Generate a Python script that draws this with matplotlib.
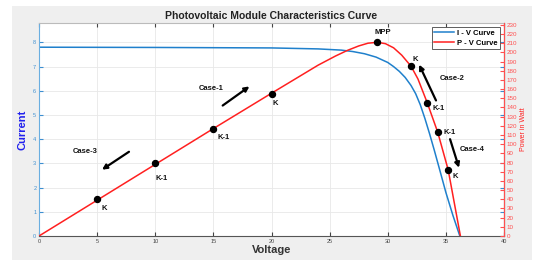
import matplotlib
matplotlib.use("Agg")
import matplotlib.pyplot as plt
from matplotlib.patches import Rectangle

plt.rcParams['font.family'] = ['Liberation Sans', 'DejaVu Sans']

# I-V curve
iv_voltage = [0, 10, 20, 24, 26, 27, 28, 29, 30, 30.5, 31, 31.5, 32, 32.4, 32.8, 33.2,
              33.6, 34.0, 34.5, 35.0, 35.6, 36.2]
iv_current = [7.8, 7.79, 7.77, 7.73, 7.68, 7.62, 7.53, 7.39, 7.17, 7.0, 6.8, 6.55, 6.22,
              5.88, 5.42, 4.85, 4.22, 3.55, 2.68, 1.8, 0.86, 0.0]

# P-V curve
pv_voltage = [0, 5, 10, 15, 20, 24, 25.5, 26.5, 27.5, 28.3, 29.1, 29.8, 30.5, 31.2, 32,
              32.6, 33.4, 34.3, 35.2, 36.25]
pv_power = [0, 39, 78, 117, 155.5, 186, 196, 202, 207, 210, 211, 209.5, 205, 197, 185,
            171, 145, 113, 72, 0]

# marked points on the P-V curve
pt_voltage = [5, 10, 15, 20, 29.1, 32.0, 33.4, 34.3, 35.2]
pt_power = [40, 79, 116, 155, 211, 185, 145, 113, 72]
pt_labels = ["K", "K-1", "K-1", "K", "MPP", "K", "K-1", "K-1", "K"]
pt_offsets = [(3, -7), (0, -11), (3, -6), (1, -7), (4, 7), (1, 5), (4, -4), (4, 0), (3, -5)]
pt_align = ["left", "left", "left", "left", "center", "left", "left", "left", "left"]

# case arrows (in voltage / current units)
case_names = ["Case-1", "Case-2", "Case-3", "Case-4"]
case_text = [(14.8, 6.09), (35.5, 6.51), (4.0, 3.48), (37.3, 3.56)]
arrow_tail = [(15.8, 5.39), (34.15, 5.6), (7.74, 3.48), (35.36, 4.0)]
arrow_head = [(18.1, 6.18), (32.7, 7.08), (5.42, 2.74), (36.13, 2.82)]

blue = "#1f80cc"
red = "#ff2020"

fig = plt.figure(figsize=(5.34, 2.6), dpi=100)
fig.patches.append(Rectangle((12 / 534, 0), 520 / 534, 254 / 260, transform=fig.transFigure,
                             facecolor="#efefef", edgecolor="none", zorder=-10))
ax = fig.add_axes([39 / 534, 24 / 260, 465 / 534, 213 / 260])
ax.set_facecolor("white")
ax2 = ax.twinx()

l1, = ax.plot(iv_voltage, iv_current, color=blue, lw=1.1, label="I - V Curve")
l2, = ax2.plot(pv_voltage, pv_power, color=red, lw=1.1, label="P - V Curve")
ax2.plot(pt_voltage, pt_power, "o", color="black", ms=4.3, zorder=5)

for v, p, lab, off, ha in zip(pt_voltage, pt_power, pt_labels, pt_offsets, pt_align):
    ax2.annotate(lab, (v, p), xytext=off, textcoords="offset points", ha=ha, va="center",
                 fontsize=5.5, fontweight="bold", color="#111111")

for name, t, a, h in zip(case_names, case_text, arrow_tail, arrow_head):
    ax2.text(t[0], t[1], name, transform=ax.transData, ha="center", va="center",
             fontsize=5.5, fontweight="bold", color="#111111")
    ax2.annotate("", xy=h, xytext=a, xycoords=ax.transData, textcoords=ax.transData,
                 arrowprops=dict(arrowstyle="-|>", lw=1.6, color="black", mutation_scale=7,
                                 shrinkA=0, shrinkB=0))

ax.set_xlim(0, 40)
ax.set_ylim(0, 8.8)
ax2.set_ylim(0, 232)
ax.set_xticks(range(0, 41, 5))
ax.set_yticks(range(0, 9))
ax2.set_yticks(range(0, 231, 10))

ax.grid(True, color="#e8e8e8", lw=0.6)
ax.set_axisbelow(True)

ax.tick_params(axis="x", direction="in", length=3, labelsize=4, colors="#444444", top=True, pad=2)
ax.tick_params(axis="y", direction="in", length=3, labelsize=4, colors="#3d8fd1", right=True, pad=2)
ax2.tick_params(axis="y", direction="in", length=3, labelsize=4.5, colors="#ff5050", pad=2)

ax.spines["left"].set_color("#6aaee0")
ax.spines["bottom"].set_color("#555555")
ax.spines["top"].set_color("#bbbbbb")
ax2.spines["right"].set_color("#ff5050")
ax2.spines["left"].set_visible(False)
for s in ["top", "bottom"]:
    ax2.spines[s].set_visible(False)

ax.set_title("Photovoltaic Module Characteristics Curve", fontsize=7.5, fontweight="bold",
             color="#222222", pad=3)
ax.set_xlabel("Voltage", fontsize=8, fontweight="bold", color="#333333", labelpad=1)
ax.set_ylabel("Current", fontsize=8, fontweight="bold", color="#2020ee", labelpad=4)
ax2.set_ylabel("Power in Watt", fontsize=5, color="#ff2020", labelpad=2)

leg = ax2.legend([l1, l2], ["I - V Curve", "P - V Curve"], loc="upper right",
                 bbox_to_anchor=(0.992, 0.98), prop={"weight": "bold", "size": 5.5},
                 fancybox=False, framealpha=1, edgecolor="#444444", handlelength=2.6,
                 borderpad=0.3, labelspacing=0.3, handletextpad=0.4, borderaxespad=0)
leg.get_frame().set_linewidth(0.6)

fig.savefig("out.png", dpi=100)
